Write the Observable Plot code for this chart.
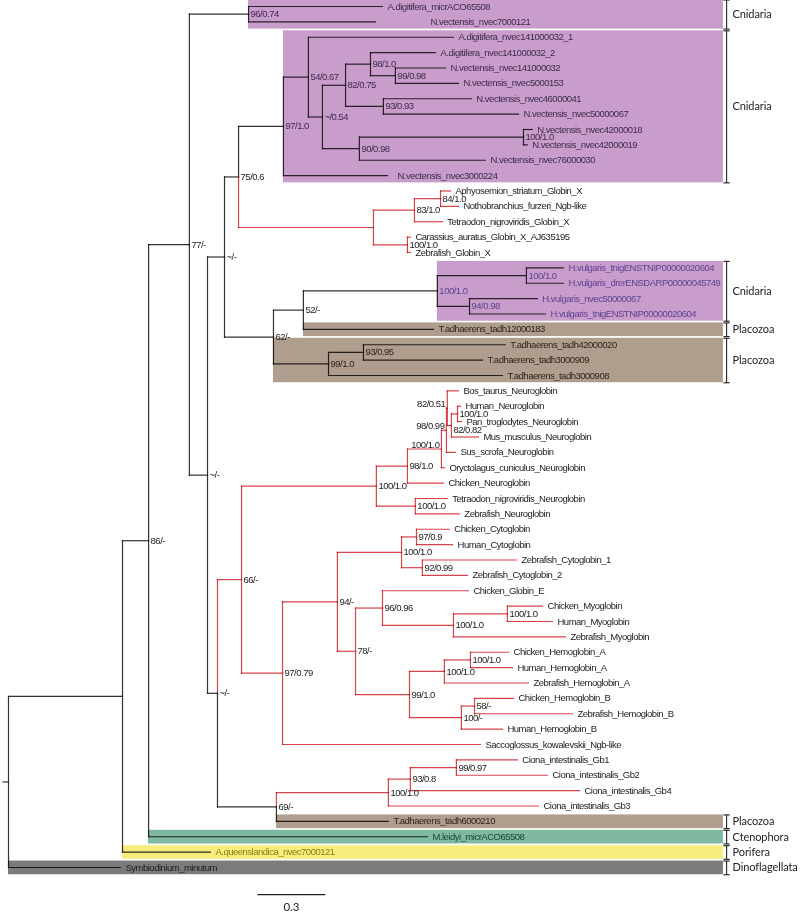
<!DOCTYPE html>
<html>
<head>
<meta charset="utf-8">
<script src="https://cdn.jsdelivr.net/npm/d3@7"></script>
<script src="https://cdn.jsdelivr.net/npm/@observablehq/plot@0.6"></script>
<style>
  html, body { margin: 0; padding: 0; background: #fff; }
  #chart svg { display: block; overflow: visible; }
  #chart svg g[aria-label="link"] { mix-blend-mode: multiply; }
</style>
</head>
<body>
<div id="chart"></div>
<script>
// ---------------- DATA ----------------
// Leaves, in row order (top to bottom); parent node and tip depth (substitutions/site from root)
const leafName = [
  "A.digitifera_micrACO65508", "N.vectensis_nvec7000121",
  "A.digitifera_nvec141000032_1", "A.digitifera_nvec141000032_2", "N.vectensis_nvec141000032",
  "N.vectensis_nvec5000153", "N.vectensis_nvec46000041", "N.vectensis_nvec50000067",
  "N.vectensis_nvec42000018", "N.vectensis_nvec42000019", "N.vectensis_nvec76000030",
  "N.vectensis_nvec3000224",
  "Aphyosemion_striatum_Globin_X", "Nothobranchius_furzeri_Ngb-like", "Tetraodon_nigroviridis_Globin_X",
  "Carassius_auratus_Globin_X_AJ635195", "Zebrafish_Globin_X",
  "H.vulgaris_tnigENSTNIP00000020604", "H.vulgaris_drerENSDARP00000045749", "H.vulgaris_nvec50000067",
  "H.vulgaris_tnigENSTNIP00000020604",
  "T.adhaerens_tadh12000183", "T.adhaerens_tadh42000020", "T.adhaerens_tadh3000909", "T.adhaerens_tadh3000908",
  "Bos_taurus_Neuroglobin", "Human_Neuroglobin", "Pan_troglodytes_Neuroglobin", "Mus_musculus_Neuroglobin",
  "Sus_scrofa_Neuroglobin", "Oryctolagus_cuniculus_Neuroglobin", "Chicken_Neuroglobin",
  "Tetraodon_nigroviridis_Neuroglobin", "Zebrafish_Neuroglobin",
  "Chicken_Cytoglobin", "Human_Cytoglobin", "Zebrafish_Cytoglobin_1", "Zebrafish_Cytoglobin_2",
  "Chicken_Globin_E", "Chicken_Myoglobin", "Human_Myoglobin", "Zebrafish_Myoglobin",
  "Chicken_Hemoglobin_A", "Human_Hemoglobin_A", "Zebrafish_Hemoglobin_A",
  "Chicken_Hemoglobin_B", "Zebrafish_Hemoglobin_B", "Human_Hemoglobin_B",
  "Saccoglossus_kowalevskii_Ngb-like",
  "Ciona_intestinalis_Gb1", "Ciona_intestinalis_Gb2", "Ciona_intestinalis_Gb4", "Ciona_intestinalis_Gb3",
  "T.adhaerens_tadh6000210", "M.leidyi_micrACO65508", "A.queenslandica_nvec7000121", "Symbiodinium_minutum"
];
const leafParent = [
  "n96", "n96",
  "n54", "n98a", "n99a", "n99a", "n93a", "n93a", "n100a", "n100a", "n90", "n97",
  "n84", "n84", "n83", "n100b", "n100b",
  "n100h2", "n100h2", "n94h", "n94h",
  "n52", "n93p", "n93p", "n99p",
  "n82b", "n100hp", "n100hp", "n82c", "n98b", "n100n", "n98n", "n100tz", "n100tz",
  "n97c", "n97c", "n92", "n92",
  "n96b", "n100m2", "n100m2", "n100m",
  "n100ha2", "n100ha2", "n100ha",
  "n58", "n58", "n100hb",
  "n97b",
  "n99c", "n99c", "n93c", "nCi",
  "n69", "n86", "nA", "root"
];
const leafDepth = [
  1.650, 1.619,
  1.963, 1.884, 1.928, 1.985, 2.042, 2.250, 2.311, 2.289, 2.104, 1.672,
  1.950, 1.985, 1.914, 1.773, 1.773,
  2.448, 2.448, 2.333, 2.369,
  1.875, 2.192, 2.091, 2.179,
  1.985, 1.994, 1.998, 2.073, 1.972, 1.923, 1.919, 1.936, 1.989,
  1.945, 1.959, 2.241, 2.025,
  2.029, 2.356, 2.400, 2.457,
  2.206, 2.223, 2.294,
  2.228, 2.488, 2.179,
  2.082,
  2.245, 2.378, 2.519, 2.338,
  1.676, 1.848, 0.891, 0.494
];

// Internal nodes: id, parent, depth, support (bootstrap / posterior)
const nodeId = [
  "root", "nA", "n86", "n77", "n96", "nB", "nC", "n75", "n97", "n54", "n054", "n82", "n98a", "n99a",
  "n93a", "n90", "n100a", "nGX", "n83", "n84", "n100b", "n62", "n52", "n100h", "n100h2", "n94h",
  "n99p", "n93p", "nD", "n66", "nNg", "n98n", "n100n", "n98b", "n82b", "n82c", "n100hp", "n100tz",
  "n97b", "n94", "nCy", "n97c", "n92", "n78", "n96b", "n100m", "n100m2", "n99h", "n100ha", "n100ha2",
  "n100hb", "n58", "n69", "nCi", "n93c", "n99c"
];
const nodeParent = [
  null, "root", "nA", "n86", "n77", "n77", "nB", "nC", "n75", "n97", "n54", "n054", "n82", "n98a",
  "n82", "n054", "n90", "n75", "nGX", "n83", "nGX", "nC", "n62", "n52", "n100h", "n100h",
  "n62", "n99p", "nB", "nD", "n66", "nNg", "n98n", "n100n", "n98b", "n82b", "n82c", "nNg",
  "n66", "n97b", "n94", "nCy", "nCy", "n94", "n78", "n96b", "n100m", "n78", "n99h", "n100ha",
  "n99h", "n100hb", "nD", "n69", "nCi", "n93c"
];
const nodeDepth = [
  0, 0.503, 0.618, 0.798, 1.059, 0.878, 0.953, 1.015, 1.213, 1.323, 1.385, 1.487, 1.597, 1.707,
  1.654, 1.548, 2.272, 1.610, 1.791, 1.906, 1.760, 1.169, 1.301, 1.892, 2.285, 2.034,
  1.412, 1.566, 0.922, 1.028, 1.623, 1.760, 1.910, 1.932, 1.936, 1.954, 1.981, 1.795,
  1.209, 1.451, 1.734, 1.800, 1.826, 1.531, 1.650, 1.963, 2.201, 1.769, 1.923, 2.038,
  1.998, 2.056, 1.182, 1.676, 1.773, 1.976
];
const nodeSupport = [
  "", "", "86/-", "77/-", "96/0.74", "~/-", "~/-", "75/0.6", "97/1.0", "54/0.67", "~/0.54", "82/0.75", "98/1.0", "99/0.98",
  "93/0.93", "90/0.98", "100/1.0", "", "83/1.0", "84/1.0", "100/1.0", "62/-", "52/-", "100/1.0", "100/1.0", "94/0.98",
  "99/1.0", "93/0.95", "~/-", "66/-", "100/1.0", "98/1.0", "100/1.0", "98/0.99", "82/0.51", "82/0.82", "100/1.0", "100/1.0",
  "97/0.79", "94/-", "100/1.0", "97/0.9", "92/0.99", "78/-", "96/0.96", "100/1.0", "100/1.0", "99/1.0", "100/1.0", "100/1.0",
  "100/-", "58/-", "69/-", "100/1.0", "93/0.8", "99/0.97"
];

// Vertebrate-type globin clades drawn in red
const redClades = ["nGX", "n66", "nCi"];

// Taxonomic shading groups: label, first leaf row, last leaf row, node where shading begins
const bandLabel = ["Cnidaria", "Cnidaria", "Cnidaria", "Placozoa", "Placozoa", "Placozoa", "Ctenophora", "Porifera", "Dinoflagellata"];
const bandFirst = [0, 2, 17, 21, 22, 53, 54, 55, 56];
const bandLast  = [1, 11, 20, 21, 24, 53, 54, 55, 56];
const bandNode  = ["n96", "n97", "n100h", "n52", "n62", "n69", "n86", "nA", "root"];

const scaleBarLength = 0.3;

// ---------------- STYLE ----------------
const RED = "#d8444c";
const INK = "#333333";
const bandFill = {Cnidaria: "#c99dcb", Placozoa: "#af9e8d", Ctenophora: "#7eb9a0", Porifera: "#f7ed7c", Dinoflagellata: "#7b7b7b"};
const bandInk = ["#3e2a4c", "#3e2a4c", "#5d4290", "#2e2418", "#2e2418", "#2e2418", "#1d4634", "#8a7a18", "#1c1c1c"];
const labelPlacement = {n82b: "left", n98b: "left", n100n: "left", n82c: "below"};
const labelShift = {1: 50, 11: 5}; // extra px before a few tip labels
const pxPerUnit = 680 / 3;
const bandRight = 3.154, bracketX = 3.168, serif = 0.014;
const padTop = 0.42, padBottom = 0.47;

function hasFont(f) {
  const c = document.createElement("canvas").getContext("2d");
  const s = "abcdefghijklmnopqrstuvwxyz_ABCDEFG0123456789";
  c.font = "20px monospace"; const a = c.measureText(s).width;
  c.font = `20px "${f}", monospace`; return c.measureText(s).width !== a;
}
const narrow = hasFont("Liberation Sans Narrow");
const tipFont = narrow ? "Liberation Sans Narrow" : "Liberation Sans";
const tipSize = narrow ? 10 : 9.5;
const tipSpacing = narrow ? 0 : -0.5;

// ---------------- BUILD TREE ----------------
const nodes = new Map();
nodeId.forEach((id, i) => nodes.set(id, {id, parent: nodeParent[i], depth: nodeDepth[i], support: nodeSupport[i], children: [], leaf: false}));
leafName.forEach((name, i) => nodes.set("leaf" + i, {id: "leaf" + i, name, parent: leafParent[i], depth: leafDepth[i], row: i, children: [], leaf: true}));
for (const n of nodes.values()) if (n.parent) nodes.get(n.parent).children.push(n);
function setRow(n) {
  if (n.leaf) return n.row;
  const rs = n.children.map(setRow);
  n.row = (Math.min(...rs) + Math.max(...rs)) / 2;
  return n.row;
}
const root = nodes.get("root");
setRow(root);
function setColor(n, c) {
  if (redClades.includes(n.id)) c = RED;
  n.color = c;
  n.children.forEach(ch => setColor(ch, c));
}
setColor(root, INK);

const bands = bandLabel.map((label, i) => ({
  label, i,
  x1: nodes.get(bandNode[i]).depth,
  y1: bandFirst[i] - padTop,
  y2: bandLast[i] + padBottom,
  fill: bandFill[label],
  ink: bandInk[i]
}));
function inkAt(depth, row, fallback) {
  const b = bands.find(b => row >= b.y1 && row <= b.y2 && depth >= b.x1 - 0.001);
  return b ? b.ink : fallback;
}

const edges = [];
for (const n of nodes.values()) {
  if (!n.parent) continue;
  const p = nodes.get(n.parent);
  edges.push({px: p.depth, py: p.row, x: n.depth, y: n.row, color: n.color});
}
const rootStub = [{x1: -0.027, x2: 0, y: root.row}];

const tips = [...nodes.values()].filter(n => n.leaf).map(n => ({
  ...n,
  lx: n.depth + (labelShift[n.row] || 0) / pxPerUnit,
  ink: inkAt(n.depth, n.row, "#222")
}));
const supports = [...nodes.values()].filter(n => !n.leaf && n.support).map(n => ({
  ...n, place: labelPlacement[n.id] || "right", ink: inkAt(n.depth, n.row, "#222")
}));

// ---------------- PLOT ----------------
const chart = Plot.plot({
  width: 800,
  height: 915,
  margin: 0,
  x: {domain: [0, 3], range: [8, 688], axis: null},
  y: {domain: [0, 56], range: [6, 867], axis: null},
  color: {type: "identity"},
  style: {background: "#fff"},
  marks: [
    Plot.rect(bands, {x1: "x1", x2: () => bandRight, y1: "y1", y2: "y2", fill: "fill"}),
    // branches (vertical part at parent, then horizontal to child)
    Plot.link(edges, {x1: "px", x2: "px", y1: "py", y2: "y", stroke: "color", strokeWidth: 1.2, strokeLinecap: "square"}),
    Plot.link(edges, {x1: "px", x2: "x", y1: "y", y2: "y", stroke: "color", strokeWidth: 1.2, strokeLinecap: "square"}),
    Plot.link(rootStub, {x1: "x1", x2: "x2", y1: "y", y2: "y", stroke: INK, strokeWidth: 1.2}),
    // tip labels
    Plot.text(tips, {x: "lx", y: "row", text: "name", fill: "ink", dx: 5, textAnchor: "start", fontFamily: tipFont, fontSize: tipSize}),
    // support values
    Plot.text(supports.filter(d => d.place === "right"), {x: "depth", y: "row", text: "support", fill: "ink", dx: 2, textAnchor: "start", fontFamily: tipFont, fontSize: tipSize}),
    Plot.text(supports.filter(d => d.place === "below"), {x: "depth", y: "row", text: "support", fill: "ink", dx: 2, dy: 4, textAnchor: "start", fontFamily: tipFont, fontSize: tipSize}),
    Plot.text(supports.filter(d => d.place === "left"), {x: "depth", y: "row", text: "support", fill: "ink", dx: -2, dy: -4, textAnchor: "end", fontFamily: tipFont, fontSize: tipSize}),
    // brackets with group names
    Plot.link(bands, {x1: () => bracketX, x2: () => bracketX, y1: "y1", y2: "y2", stroke: "#333", strokeWidth: 1.2}),
    Plot.link(bands, {x1: () => bracketX - serif, x2: () => bracketX + serif, y1: "y1", y2: "y1", stroke: "#333", strokeWidth: 1.2}),
    Plot.link(bands, {x1: () => bracketX - serif, x2: () => bracketX + serif, y1: "y2", y2: "y2", stroke: "#333", strokeWidth: 1.2}),
    Plot.text(bands, {x: () => bracketX, y: d => (d.y1 + d.y2) / 2, text: "label", dx: 6, textAnchor: "start", fill: "#222", fontFamily: "Lato", fontSize: 11}),
    // scale bar
    Plot.link([{x1: 1.098, x2: 1.098 + scaleBarLength, y: 57.76}], {x1: "x1", x2: "x2", y1: "y", y2: "y", stroke: "#222", strokeWidth: 1.2}),
    Plot.text([{x: 1.098 + scaleBarLength / 2, y: 58.62, t: String(scaleBarLength)}], {x: "x", y: "y", text: "t", fill: "#222", fontFamily: "Lato", fontSize: 11.5})
  ]
});
chart.querySelectorAll(`g[font-family="${tipFont}"]`).forEach(g => g.setAttribute("letter-spacing", tipSpacing));
chart.querySelectorAll(`g[font-family="Lato"]`).forEach(g => g.setAttribute("letter-spacing", -0.1));
document.getElementById("chart").appendChild(chart);
</script>
</body>
</html>
